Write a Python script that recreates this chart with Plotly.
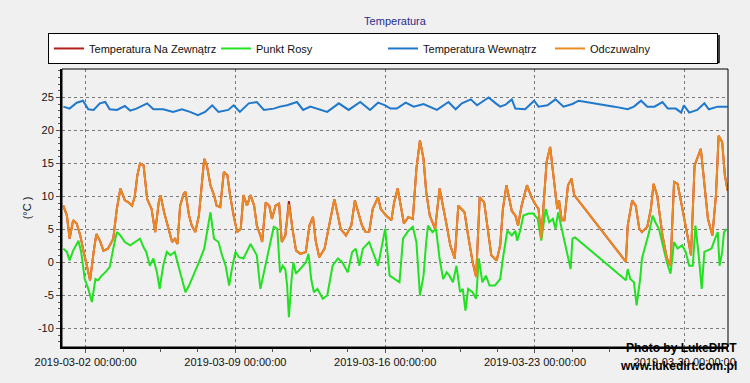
import pandas as pd
import plotly.graph_objects as go

START = pd.Timestamp("2019-03-01 00:00:00")

# hours since 2019-03-01 00:00 for outdoor / feels-like samples
out_hours = [-1, 3, 6, 10, 14, 18, 21, 25, 29, 33, 36, 40, 44, 49, 55, 59, 63, 68, 72, 76, 79, 82, 85, 89, 93, 98,
             102, 106, 108, 112, 116, 121, 124, 127, 130, 134, 136, 140, 143, 147, 151, 157, 160, 164, 168, 171, 175,
             179, 183, 186, 190, 194, 198, 201, 205, 209, 213, 216, 220, 222, 226, 230, 233, 237, 241, 244, 248, 252,
             256, 260, 265, 271, 275, 279, 282, 286, 292, 297, 303, 307, 310, 316, 322, 326, 330, 334, 338, 342, 346,
             352, 355, 361, 367, 370, 374, 378, 381, 386, 391, 395, 399, 403, 406, 410, 416, 421, 425, 429, 433, 438,
             442, 446, 449, 453, 458, 462, 466, 471, 474, 479, 485, 489, 492, 496, 502, 506, 509, 513, 519, 524, 528,
             532, 535, 538, 541, 545, 549, 553, 555, 558, 561, 565, 569, 572, 630, 632, 637, 641, 645, 648, 654, 658,
             661, 665, 671, 676, 680, 684, 688, 693, 699, 703, 707, 714, 718, 722, 727, 731, 734, 738, 741, 744]

temp_out = [8.6, 7.1, 3.6, 6.4, 5.9, 4.1, 2.1, -0.5, -2.7, 1.6, 4.3, 3.3, 1.8, 2.1, 3.6, 8.1, 11.2, 9.4, 9.1, 8.6,
            9.9, 13.2, 15.0, 14.7, 9.6, 8.1, 4.6, 9.1, 10.2, 7.6, 5.6, 3.1, 3.6, 2.8, 8.6, 10.4, 10.7, 7.1, 5.6, 4.6,
            7.1, 15.7, 14.7, 11.7, 10.2, 8.6, 8.4, 13.7, 13.2, 10.2, 7.1, 4.6, 5.1, 10.2, 8.6, 10.2, 8.6, 5.6, 4.1,
            3.1, 9.1, 8.6, 6.6, 8.6, 8.9, 3.1, 4.1, 9.3, 5.1, 1.8, 1.3, 1.6, 5.6, 6.9, 3.3, 0.8, 2.1, 5.6, 9.6, 7.1,
            5.1, 4.1, 5.6, 9.4, 7.6, 5.6, 4.6, 4.6, 8.1, 9.9, 8.1, 7.1, 6.4, 9.1, 11.2, 8.1, 5.9, 6.9, 6.6, 14.2,
            18.5, 15.7, 10.7, 7.1, 5.1, 11.2, 8.6, 5.6, 2.6, 0.6, 8.6, 8.1, 7.6, 4.1, 0.1, -2.2, 9.9, 9.1, 6.1, 1.1,
            0.3, 2.6, 8.1, 11.7, 7.8, 7.1, 5.6, 8.6, 11.7, 9.9, 8.9, 8.1, 3.6, 9.1, 15.2, 17.5, 13.2, 8.1, 9.4, 6.4,
            6.4, 11.7, 12.7, 10.2, 0.1, 5.6, 9.4, 8.6, 5.1, 4.6, 5.4, 8.1, 11.9, 10.2, 4.1, 0.6, -0.5, 12.2, 11.9,
            8.6, 4.1, 1.1, 14.7, 17.2, 11.7, 6.6, 4.1, 10.2, 19.2, 18.2, 13.2, 10.9]

feels_like = [8.6, 7.1, 3.6, 6.4, 5.9, 4.1, 2.1, -0.5, -2.7, 1.6, 4.3, 3.3, 1.8, 2.1, 3.6, 8.1, 11.2, 9.4, 9.1, 8.6,
              9.9, 13.2, 15.0, 14.7, 9.6, 8.1, 4.6, 9.1, 10.2, 7.6, 5.6, 3.1, 3.6, 2.8, 8.6, 10.4, 10.7, 7.1, 5.6, 4.6,
              7.1, 15.7, 14.7, 11.7, 10.2, 8.6, 8.4, 13.7, 13.2, 10.2, 7.1, 4.6, 5.1, 10.2, 8.6, 10.2, 8.6, 5.6, 4.1,
              3.1, 9.1, 8.6, 6.6, 8.6, 8.9, 3.1, 4.1, 8.8, 5.1, 1.8, 1.3, 1.6, 5.6, 6.9, 3.3, 0.8, 2.1, 5.6, 9.6, 7.1,
              5.1, 4.1, 5.6, 9.4, 7.6, 5.6, 4.6, 4.6, 8.1, 9.9, 8.1, 7.1, 6.4, 9.1, 11.2, 8.1, 5.9, 6.9, 6.6, 14.2,
              18.5, 15.7, 10.7, 7.1, 5.1, 11.2, 8.6, 5.6, 2.6, 0.6, 8.6, 8.1, 7.6, 4.1, 0.1, -2.2, 9.9, 9.1, 6.1, 1.1,
              0.3, 2.6, 8.1, 11.7, 7.8, 7.1, 5.6, 8.6, 11.7, 9.9, 8.9, 8.1, 3.6, 9.1, 15.2, 17.5, 13.2, 8.1, 9.4, 6.4,
              6.4, 11.7, 12.7, 10.2, 0.1, 5.6, 9.4, 8.6, 5.1, 4.6, 5.4, 8.1, 11.9, 10.2, 4.1, 0.6, -0.5, 12.2, 11.9,
              8.6, 4.1, 1.1, 14.7, 17.2, 11.7, 6.6, 4.1, 10.2, 19.2, 18.2, 13.2, 10.9]

dew_hours = [-1, 3, 6, 10, 16, 19, 23, 27, 31, 35, 38, 42, 46, 51, 55, 59, 63, 68, 74, 79, 85, 89, 92, 96, 100, 104,
             107, 111, 115, 119, 124, 128, 132, 136, 140, 145, 151, 157, 162, 164, 168, 173, 177, 181, 185, 188, 192,
             196, 201, 205, 209, 213, 216, 220, 224, 230, 235, 239, 242, 245, 248, 250, 252, 255, 257, 260, 265, 271,
             274, 277, 280, 284, 290, 295, 301, 307, 312, 318, 323, 327, 331, 335, 342, 346, 352, 355, 360, 365, 370,
             376, 380, 386, 391, 395, 399, 403, 406, 408, 413, 417, 421, 425, 429, 432, 436, 440, 444, 447, 450, 453,
             458, 462, 465, 469, 473, 477, 483, 489, 492, 497, 502, 506, 508, 511, 515, 521, 526, 531, 535, 538, 540,
             544, 548, 551, 554, 558, 562, 565, 568, 570, 573, 630, 632, 635, 639, 642, 646, 648, 652, 656, 660, 663,
             667, 671, 676, 680, 684, 688, 693, 697, 701, 705, 708, 712, 715, 718, 722, 726, 730, 733, 735, 738, 740,
             743]

dew_point = [2.1, 1.6, 0.3, 1.8, 3.3, 1.6, -2.5, -4.0, -6.0, -2.5, -2.7, -2.0, -1.5, -0.7, 2.1, 4.6, 4.1, 3.1, 2.6,
             3.1, 3.6, 2.3, 1.6, -0.5, 0.6, -1.5, -4.0, -0.5, 1.6, 1.1, 1.6, -0.5, -2.5, -4.5, -3.5, -2.0, 0.0, 2.1,
             5.6, 7.6, 3.6, 3.1, 1.1, -0.5, -3.5, -1.0, 1.6, 0.8, 0.6, 1.6, 2.8, 1.8, 1.1, -4.0, -1.5, 2.6, 5.4, 5.1,
             -1.5, -0.5, -1.0, -3.5, -8.3, -2.5, 0.0, -1.7, -1.0, 0.0, 1.3, -2.5, -4.5, -4.0, -5.5, -5.0, -0.5, 0.6,
             0.0, -1.5, 1.6, 2.1, -0.5, 2.1, 3.1, 1.6, -0.5, 1.6, 5.1, -2.0, -2.5, -3.0, 3.6, 4.8, 5.4, 3.1, -5.0,
             -2.0, 3.1, 5.6, 4.6, 5.1, 0.6, -2.5, -1.5, -2.0, -3.0, -0.5, -4.5, -4.0, -7.3, -4.0, -4.5, -5.5, 0.6,
             -3.0, -2.0, -3.5, -3.5, -2.5, 0.6, 4.8, 4.1, 4.8, 3.3, 4.6, 7.1, 7.4, 7.4, 6.6, 3.3, 6.6, 8.1, 6.1, 6.6,
             5.1, 7.6, 5.1, 2.6, 1.1, -1.0, 3.6, 3.8, -2.7, -1.0, -2.5, -3.0, -6.5, -2.5, 0.6, 2.6, 4.6, 7.1, 6.1,
             5.1, 2.6, 0.0, -1.7, 3.1, 2.1, 2.6, 1.6, -0.5, -0.5, 5.6, 0.6, -4.0, 1.6, 1.8, 2.1, 3.6, 4.6, -0.5, 1.6,
             4.6, 5.1]

in_hours = [-1, 6, 14, 21, 27, 33, 40, 46, 51, 59, 68, 74, 81, 93, 100, 111, 122, 132, 141, 150, 158, 166, 173, 184,
            190, 197, 207, 216, 224, 235, 242, 250, 261, 268, 276, 283, 295, 308, 319, 332, 343, 352, 360, 366, 373,
            383, 392, 403, 418, 431, 439, 446, 456, 463, 476, 484, 489, 495, 502, 506, 517, 527, 532, 542, 551, 560,
            570, 577, 587, 602, 617, 632, 639, 647, 654, 662, 671, 677, 686, 692, 695, 701, 710, 718, 723, 733, 744]

temp_in = [23.6, 23.3, 24.2, 24.5, 23.2, 23.1, 24.1, 24.3, 23.2, 23.1, 23.7, 23.0, 23.3, 24.1, 23.2, 23.2, 22.8, 23.2,
           22.8, 22.3, 22.8, 23.8, 22.8, 23.1, 23.8, 22.8, 24.1, 24.3, 23.1, 23.3, 23.6, 23.8, 24.3, 23.1, 23.6, 23.3,
           22.8, 24.1, 23.1, 24.3, 23.1, 24.2, 23.8, 23.3, 23.3, 24.2, 23.6, 24.0, 23.1, 24.3, 23.2, 24.1, 24.7, 23.8,
           25.0, 24.1, 23.6, 23.9, 24.7, 23.3, 23.2, 24.5, 23.6, 23.8, 24.7, 23.6, 24.0, 24.5, 24.3, 23.9, 23.6, 23.2,
           23.6, 24.5, 23.6, 23.6, 24.3, 23.3, 23.3, 22.7, 23.8, 22.7, 23.1, 24.1, 23.2, 23.6, 23.6]

series_names = ["Temperatura Na Zewnątrz", "Punkt Rosy", "Temperatura Wewnątrz", "Odczuwalny"]
series_colors = ["#b3201c", "#22e022", "#1f78cc", "#ec8a22"]
y_ticks = [-10, -5, 0, 5, 10, 15, 20, 25]
y_tick_text = ["-10", "-5", "0", "5", "10", "15", "20", "25"]


def to_time(hours):
    return START + pd.to_timedelta(hours, unit="h")


fig = go.Figure()
data = [(out_hours, temp_out), (dew_hours, dew_point), (in_hours, temp_in), (out_hours, feels_like)]
for (hrs, vals), name, color in zip(data, series_names, series_colors):
    fig.add_trace(go.Scatter(x=to_time(hrs), y=vals, mode="lines", name=name,
                             line=dict(color=color, width=2)))

FONT = "Liberation Sans, Arial, sans-serif"
grid = "#7a7a7a"

fig.update_layout(
    width=750, height=383,
    margin=dict(l=62, r=22, t=69, b=36, autoexpand=False),
    paper_bgcolor="#f0f0f0", plot_bgcolor="#f0f0f0",
    font=dict(family=FONT, size=11, color="#111111"),
    title=dict(text="Temperatura", x=0.5, xref="paper", xanchor="center", y=1 - 21 / 383, yref="container",
               yanchor="middle", pad=dict(t=0, b=0), font=dict(size=11, color="#2b2b8f", family=FONT)),
    showlegend=True,
    legend=dict(orientation="h", x=-0.021, xanchor="left", y=1.1296, yanchor="top",
                bgcolor="#ffffff", bordercolor="#000000", borderwidth=1,
                entrywidth=122, entrywidthmode="pixels", font=dict(size=11, family=FONT),
                itemclick=False, tracegroupgap=0),
    xaxis=dict(
        type="date",
        range=[to_time(-2.5), to_time(744.5)],
        tick0="2019-03-02", dtick=7 * 86400000, tickformat="%Y-%m-%d %H:%M:%S",
        ticks="outside", ticklen=4, tickcolor="#555555",
        showgrid=True, gridcolor=grid, griddash="3px,3px", gridwidth=1,
        showline=True, linecolor="#000000", linewidth=2,
        minor=dict(dtick=1.75 * 86400000, tick0="2019-03-02", ticks="outside", ticklen=3,
                   tickcolor="#555555", showgrid=False),
        zeroline=False, tickfont=dict(size=11, color="#111111"),
    ),
    yaxis=dict(
        range=[-12.8, 29.3], tickvals=y_ticks, ticktext=y_tick_text,
        ticks="outside", ticklen=4, tickcolor="#555555",
        showgrid=True, gridcolor=grid, griddash="3px,3px", gridwidth=1,
        showline=True, linecolor="#000000", linewidth=2,
        minor=dict(dtick=1, tick0=0, ticks="outside", ticklen=2, tickcolor="#555555", showgrid=False),
        zeroline=False, tickfont=dict(size=11, color="#111111"),
        title=dict(text="(°C )", font=dict(size=11, color="#111111"), standoff=4),
    ),
)

# thin frame around the plot area
fig.add_shape(type="rect", xref="paper", yref="paper", x0=0, x1=1, y0=0, y1=1,
              line=dict(color="#000000", width=1), layer="above")
# shadow along the right and bottom edges of the legend box
fig.add_shape(type="line", xref="paper", yref="paper", x0=0.9865, x1=0.9865, y0=1.1223, y1=1.0234,
              line=dict(color="#000000", width=1.5), layer="above")
fig.add_shape(type="line", xref="paper", yref="paper", x0=-0.018, x1=0.9872, y0=1.0234, y1=1.0234,
              line=dict(color="#000000", width=1.5), layer="above")

# watermark
fig.add_annotation(text="<b>Photo by LukeDIRT</b>", xref="paper", yref="paper", x=1.016, y=-0.005,
                   xanchor="right", yanchor="middle", showarrow=False,
                   font=dict(size=12, color="#000000", family=FONT))
fig.add_annotation(text="<b>www.lukedirt.com.pl</b>", xref="paper", yref="paper", x=1.016, y=-0.068,
                   xanchor="right", yanchor="middle", showarrow=False,
                   font=dict(size=12, color="#000000", family=FONT))

fig.write_html("out.html", config={"displayModeBar": False},
               post_script="document.body.style.margin='0';document.body.style.background='#f0f0f0';")
